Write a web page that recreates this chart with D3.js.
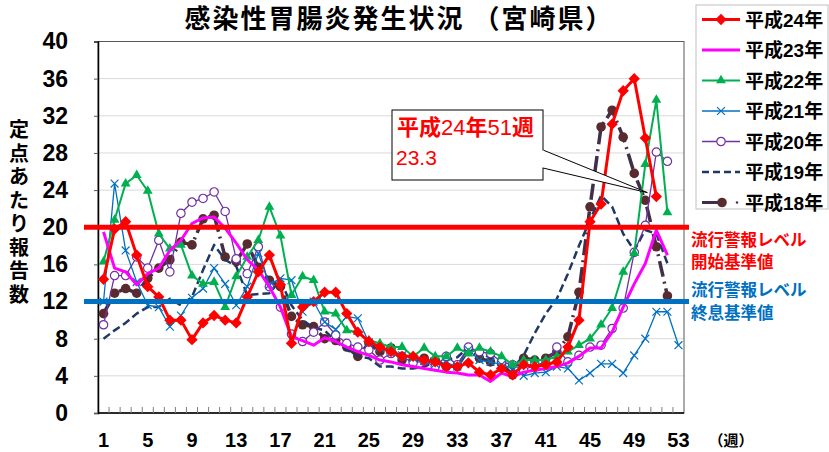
<!DOCTYPE html>
<html>
<head>
<meta charset="utf-8">
<script src="https://cdn.jsdelivr.net/npm/d3@7/dist/d3.min.js"></script>
<style>
  body { margin: 0; background: #fff; }
  svg { display: block; font-family: "Liberation Sans", Arial, "Noto Sans CJK JP", sans-serif; }
</style>
</head>
<body>
<svg id="chart" width="829" height="452"></svg>
<script>
// weeks and tick labels
const weeks = d3.range(1, 54);
const weekTicks = [1, 5, 9, 13, 17, 21, 25, 29, 33, 37, 41, 45, 49, 53];
const yTicks = [0, 4, 8, 12, 16, 20, 24, 28, 32, 36, 40];

// per-sentinel reports by week
const h24 = [14.4, 19.8, 20.6, 17.0, 13.6, 12.5, 10.0, 10.0, 7.9, 9.7, 10.5, 10.0, 9.7, 12.5, 15.2, 17.0, 13.8, 7.5, 11.4, 12.0,
  13.0, 13.0, 10.7, 8.7, 7.7, 7.1, 6.6, 6.1, 6.1, 5.7, 5.5, 5.0, 5.0, 5.4, 4.4, 4.1, 4.8, 4.1, 5.2, 5.0,
  5.2, 5.5, 7.1, 10.0, 20.6, 22.5, 31.1, 34.7, 36.0, 29.6, 23.3];
const h23 = [19.5, 15.6, 15.2, 13.8, 15.0, 15.6, 17.5, 18.6, 20.4, 21.0, 21.1, 19.9, 18.3, 16.5, 15.4, 13.6, 11.4, 8.2, 7.8, 7.3,
  8.1, 7.7, 7.1, 6.6, 6.2, 5.7, 5.5, 5.2, 5.0, 4.8, 4.6, 4.4, 4.3, 4.1, 4.1, 3.4, 4.3, 3.9, 4.4, 4.6,
  4.8, 5.0, 5.4, 6.1, 7.0, 7.0, 8.7, 11.4, 13.9, 16.1, 19.7, 17.0];
const h22 = [16.3, 20.8, 24.7, 25.6, 23.9, 19.3, 17.7, 18.1, 14.8, 13.9, 14.1, 11.4, 14.7, 16.8, 18.6, 22.2, 19.1, 12.7, 14.7, 14.3,
  10.9, 10.7, 8.9, 8.7, 7.8, 7.5, 7.1, 7.1, 6.1, 7.0, 6.1, 6.1, 7.0, 6.4, 7.0, 6.6, 6.1, 5.2, 5.7, 5.7,
  5.7, 6.1, 6.6, 7.3, 8.0, 9.5, 11.3, 15.2, 17.2, 26.8, 33.7, 21.6];
const h21 = [12.0, 24.7, 17.5, 14.1, 11.6, 11.4, 9.3, 10.5, 12.4, 13.4, 15.6, 13.9, 11.6, 13.6, 17.2, 13.8, 14.5, 14.3, 10.9, 12.0,
  9.8, 9.0, 10.4, 10.2, 7.6, 7.0, 6.5, 6.2, 5.9, 5.6, 5.3, 5.4, 5.0, 6.8, 5.7, 5.5, 5.2, 4.8, 4.0, 4.3,
  4.4, 5.0, 4.8, 3.5, 4.3, 5.3, 5.3, 4.3, 6.2, 8.0, 10.9, 10.9, 7.3];
const h20 = [9.5, 14.8, 14.8, 16.8, 15.6, 18.6, 15.2, 21.5, 22.7, 23.1, 23.8, 21.7, 16.6, 15.0, 17.9, 13.6, 11.4, 8.5, 7.7, 8.7,
  9.8, 8.4, 7.5, 7.1, 6.8, 5.7, 6.4, 6.1, 5.4, 5.6, 5.0, 6.1, 5.2, 7.1, 6.6, 6.4, 5.5, 5.2, 4.6, 5.2,
  5.4, 7.1, 5.5, 6.2, 7.1, 7.3, 9.1, 11.3, 17.3, 20.2, 28.1, 27.1];
const h19 = [8.0, 8.9, 9.7, 10.7, 11.4, 11.4, 12.3, 11.6, 12.5, 15.4, 18.1, 16.5, 15.8, 12.7, 12.8, 12.9, 14.3, 11.6, 10.0, 9.2,
  8.9, 7.7, 6.8, 6.1, 5.9, 5.0, 5.0, 4.8, 4.8, 5.0, 5.5, 5.7, 6.0, 7.1, 6.4, 6.0, 5.5, 4.8, 6.2, 8.6,
  10.7, 12.3, 15.0, 18.0, 20.8, 23.4, 22.2, 19.3, 17.5, 19.7, 19.3, 16.1];
const h18 = [10.7, 12.9, 13.4, 12.9, 14.5, 15.6, 16.5, 18.4, 18.1, 20.9, 21.3, 16.8, 16.3, 18.2, 15.7, 14.3, 13.6, 10.4, 9.5, 9.3,
  8.0, 7.8, 7.1, 6.1, 7.5, 6.6, 7.0, 5.7, 5.7, 5.9, 5.7, 5.0, 5.0, 6.8, 5.9, 5.5, 5.3, 4.1, 5.9, 5.7,
  5.9, 6.6, 8.2, 13.0, 22.2, 30.8, 32.6, 29.7, 25.8, 22.9, 17.9, 12.6];

const seriesNames = ['平成24年', '平成23年', '平成22年', '平成21年', '平成20年', '平成19年', '平成18年'];
const thresholds = [
  { value: 20, color: '#ff0000', lines: ['流行警報レベル', '開始基準値'], dy: [19, 41] },
  { value: 12, color: '#0070c0', lines: ['流行警報レベル', '終息基準値'], dy: [-5.5, 17.5] }
];
const callout = { week: 51, value: 23.3, title: ['平成', '24', '年', '51', '週'], text: '23.3' };

const styles = [
  { data: h24, color: '#ff0000', width: 3, marker: 'diamond' },
  { data: h23, color: '#ff00ff', width: 3, marker: null },
  { data: h22, color: '#00b050', width: 2, marker: 'triangle' },
  { data: h21, color: '#0070c0', width: 1.3, marker: 'x' },
  { data: h20, color: '#7030a0', width: 1.3, marker: 'circle' },
  { data: h19, color: '#1f3864', width: 2.5, marker: null, dash: '8,4' },
  { data: h18, color: '#3f2f4a', width: 3.5, marker: 'dot', dash: '16,5,2,5' }
];
styles.forEach((s, i) => s.name = seriesNames[i]);

const svg = d3.select('#chart');
const margin = { left: 98, right: 145, top: 41.5, bottom: 39 };
const W = +svg.attr('width'), H = +svg.attr('height');

const x = d3.scaleBand().domain(weeks).range([margin.left, W - margin.right]);
const xc = w => x(w) + x.bandwidth() / 2;
const y = d3.scaleLinear().domain([0, 40]).range([H - margin.bottom, margin.top]);

// gridlines
svg.append('g')
  .selectAll('line').data(yTicks.filter(d => d > 0)).join('line')
  .attr('x1', margin.left).attr('x2', W - margin.right)
  .attr('y1', d => y(d)).attr('y2', d => y(d))
  .attr('stroke', '#d9d9d9').attr('stroke-width', 1);

// plot frame
svg.append('rect')
  .attr('x', margin.left).attr('y', margin.top)
  .attr('width', W - margin.right - margin.left).attr('height', y(0) - margin.top)
  .attr('fill', 'none').attr('stroke', '#595959').attr('stroke-width', 1);

// y axis
const yAxis = svg.append('g')
  .attr('transform', `translate(${margin.left},0)`)
  .call(d3.axisLeft(y).tickValues(yTicks).tickSize(4).tickPadding(26));
yAxis.select('.domain').attr('stroke', '#000').attr('stroke-width', 1.5);
yAxis.selectAll('.tick line').attr('stroke', '#595959');
yAxis.selectAll('text')
  .attr('font-size', 23).attr('font-weight', 'bold').attr('fill', '#000')
  .attr('font-family', '"Liberation Sans", Arial, sans-serif');

// x axis: ticks between categories, labels every 4 weeks
const xAxis = svg.append('g').attr('transform', `translate(0,${y(0)})`);
xAxis.append('line')
  .attr('x1', margin.left).attr('x2', W - margin.right)
  .attr('stroke', '#000').attr('stroke-width', 1.5);
xAxis.selectAll('.tk').data(weeks.slice(1)).join('line')
  .attr('class', 'tk')
  .attr('x1', d => x(d)).attr('x2', d => x(d))
  .attr('y1', 0).attr('y2', -6)
  .attr('stroke', '#7f7f7f');
xAxis.selectAll('text').data(weekTicks).join('text')
  .attr('x', d => xc(d)).attr('y', 34)
  .attr('text-anchor', 'middle')
  .attr('font-size', 20).attr('font-weight', 'bold')
  .text(d => d);
xAxis.append('text')
  .attr('x', W - margin.right + 47).attr('y', 33)
  .attr('text-anchor', 'middle')
  .attr('font-size', 15).attr('font-weight', 'bold')
  .text('（週）');

// y axis title, vertical
const yTitle = '定点あたり報告数'.split('');
svg.append('g').selectAll('text').data(yTitle).join('text')
  .attr('x', 19).attr('y', (d, i) => 137 + i * 23.5)
  .attr('text-anchor', 'middle')
  .attr('font-size', 20).attr('font-weight', 'bold')
  .text(d => d);

// title
svg.append('text')
  .attr('x', 399).attr('y', 28)
  .attr('text-anchor', 'middle')
  .attr('font-size', 26).attr('font-weight', 'bold')
  .attr('letter-spacing', 2)
  .text('感染性胃腸炎発生状況 （宮崎県）');

// markers
function drawMarker(g, type, color) {
  if (type === 'diamond') {
    g.append('path').attr('d', d3.symbol(d3.symbolSquare, 64)())
      .attr('transform', 'rotate(45)').attr('fill', color);
  } else if (type === 'triangle') {
    g.append('path').attr('d', d3.symbol(d3.symbolTriangle, 42)()).attr('fill', color);
  } else if (type === 'x') {
    g.append('path').attr('d', d3.symbol(d3.symbolX, 42)())
      .attr('fill', 'none').attr('stroke', color).attr('stroke-width', 1.2);
  } else if (type === 'circle') {
    g.append('circle').attr('r', 4.2)
      .attr('fill', '#fff').attr('stroke', color).attr('stroke-width', 1.2);
  } else if (type === 'dot') {
    g.append('circle').attr('r', 4.8).attr('fill', '#5a2b2e');
  }
}

const line = d3.line().x((d, i) => xc(i + 1)).y(d => y(d));
const seriesG = svg.append('g');
styles.slice().reverse().forEach(s => {
  const g = seriesG.append('g');
  g.append('path').datum(s.data)
    .attr('d', line)
    .attr('fill', 'none').attr('stroke', s.color).attr('stroke-width', s.width)
    .attr('stroke-dasharray', s.dash || null)
    .attr('stroke-linejoin', 'round');
  if (s.marker) {
    g.selectAll('.m').data(s.data).join('g')
      .attr('class', 'm')
      .attr('transform', (d, i) => `translate(${xc(i + 1)},${y(d)})`)
      .each(function () { drawMarker(d3.select(this), s.marker, s.color); });
  }
});

// threshold lines and labels
thresholds.forEach(t => {
  svg.append('line')
    .attr('x1', 84).attr('x2', W - margin.right + 5)
    .attr('y1', y(t.value)).attr('y2', y(t.value))
    .attr('stroke', t.color).attr('stroke-width', 5);
  svg.append('g').selectAll('text').data(t.lines).join('text')
    .attr('x', W - margin.right + 7)
    .attr('y', (d, i) => y(t.value) + t.dy[i])
    .attr('fill', t.color)
    .attr('font-size', 16.5).attr('font-weight', 'bold')
    .text(d => d);
});

// callout
const cx0 = 392, cy0 = 110, cw = 151, ch = 70;
const tip = [xc(callout.week) - 9, y(callout.value) - 4];
svg.append('path')
  .attr('d', `M${cx0 + cw},${cy0 + 40}L${tip[0]},${tip[1]}L${cx0 + cw},${cy0 + 58}`)
  .attr('fill', '#fff').attr('stroke', '#000').attr('stroke-width', 1);
svg.append('rect')
  .attr('x', cx0).attr('y', cy0).attr('width', cw).attr('height', ch)
  .attr('fill', '#fff').attr('stroke', '#000').attr('stroke-width', 1);
svg.append('rect')
  .attr('x', cx0 + cw - 1).attr('y', cy0 + 40.5).attr('width', 2).attr('height', 17)
  .attr('fill', '#fff');
const ct = svg.append('text')
  .attr('x', cx0 + 5).attr('y', cy0 + 25)
  .attr('fill', '#ff0000').attr('font-size', 22);
ct.selectAll('tspan').data(callout.title).join('tspan')
  .attr('font-weight', d => /\d/.test(d) ? 'normal' : 'bold')
  .text(d => d);
svg.append('text')
  .attr('x', cx0 + 4).attr('y', cy0 + 55)
  .attr('fill', '#ff0000').attr('font-size', 21)
  .text(callout.text);

// legend
const lg = svg.append('g').attr('transform', 'translate(696,5)');
lg.append('rect').attr('width', 132).attr('height', 204)
  .attr('fill', '#fff').attr('stroke', '#bfbfbf');
const items = lg.selectAll('.item').data(styles).join('g')
  .attr('class', 'item')
  .attr('transform', (d, i) => `translate(6,${14.5 + i * 30.5})`);
items.append('line')
  .attr('x1', 0).attr('x2', d => d.name === '平成18年' ? 22 : 38)
  .attr('stroke', d => d.color).attr('stroke-width', d => Math.min(d.width, 3))
  .attr('stroke-dasharray', d => d.name === '平成19年' ? '7,4' : null);
items.each(function (d) {
  const g = d3.select(this);
  if (d.marker) {
    const mg = g.append('g').attr('transform', `translate(${d.name === '平成18年' ? 20 : 19},0)`);
    drawMarker(mg, d.marker, d.color);
  }
  if (d.name === '平成18年') {
    g.append('circle').attr('cx', 35).attr('r', 1.2).attr('fill', d.color);
  }
});
items.append('text')
  .attr('x', 43).attr('y', 7)
  .attr('font-size', 19).attr('font-weight', 'bold')
  .text(d => d.name);
</script>
</body>
</html>
